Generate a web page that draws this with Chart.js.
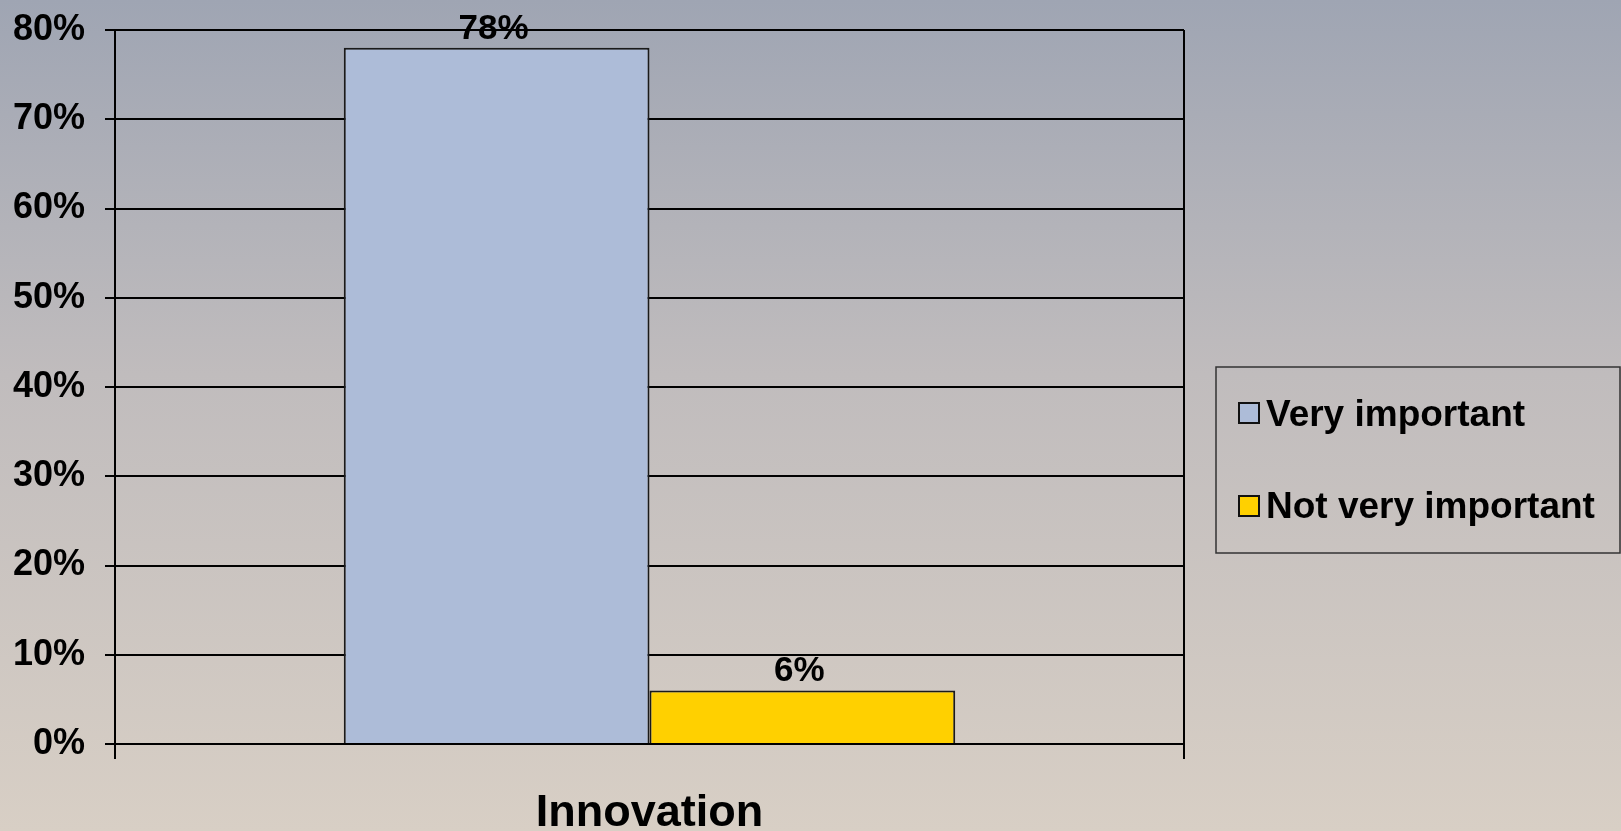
<!DOCTYPE html>
<html><head><meta charset="utf-8">
<script src="https://cdn.jsdelivr.net/npm/chart.js@4/dist/chart.umd.min.js"></script>
<style>html,body{margin:0;padding:0;overflow:hidden;background:#c8c2bf}
#wrap{width:1621px;height:831px;position:relative}</style>
</head><body><div id="wrap"><canvas id="c" width="1621" height="831"></canvas></div>
<script>
const categories = ['Innovation'];
const seriesNames = ['Very important', 'Not very important'];
const veryImportant = [78];
const notVeryImportant = [6];
const yTickMin = 0, yTickMax = 80, yTickStep = 10;
const seriesColors = ['#adbcd8', '#ffd000'];

const FONT = "'Liberation Sans', Arial, sans-serif";

const bgPlugin = {
  id: 'bg',
  beforeDraw(chart) {
    const ctx = chart.ctx;
    const g = ctx.createLinearGradient(0, 0, 0, chart.height);
    g.addColorStop(0, '#9fa5b3');
    g.addColorStop(0.45, '#c0bcbd');
    g.addColorStop(1, '#d8cfc5');
    ctx.save();
    ctx.fillStyle = g;
    ctx.fillRect(0, 0, chart.width, chart.height);
    ctx.restore();
  }
};

const labelPlugin = {
  id: 'vals',
  afterDatasetsDraw(chart) {
    const ctx = chart.ctx;
    ctx.save();
    ctx.font = 'bold 35px ' + FONT;
    ctx.fillStyle = '#000';
    ctx.textAlign = 'center';
    ctx.textBaseline = 'alphabetic';
    chart.data.datasets.forEach((ds, i) => {
      const meta = chart.getDatasetMeta(i);
      meta.data.forEach((bar, j) => {
        ctx.fillText(ds.data[j] + '%', bar.x - 3, bar.y - 9);
      });
    });
    ctx.restore();
  }
};

const legendPlugin = {
  id: 'legendBox',
  afterDraw(chart) {
    const ctx = chart.ctx;
    ctx.save();
    ctx.strokeStyle = '#333';
    ctx.lineWidth = 1.5;
    ctx.strokeRect(1216, 367, 404, 186);
    ctx.font = 'bold 37px ' + FONT;
    ctx.textBaseline = 'alphabetic';
    ctx.textAlign = 'left';
    const rows = [{box: 403, base: 426}, {box: 496, base: 518}];
    chart.data.datasets.forEach((ds, i) => {
      const r = rows[i];
      ctx.fillStyle = ds.backgroundColor;
      ctx.fillRect(1239, r.box, 20, 20);
      ctx.strokeStyle = '#111';
      ctx.lineWidth = 2;
      ctx.strokeRect(1239, r.box, 20, 20);
      ctx.fillStyle = '#000';
      ctx.fillText(ds.label, 1266, r.base);
    });
    ctx.restore();
  }
};

new Chart(document.getElementById('c'), {
  type: 'bar',
  data: {
    labels: categories,
    datasets: [
      {label: seriesNames[0], data: veryImportant, backgroundColor: seriesColors[0], borderColor: '#1a1a1a', borderWidth: 2},
      {label: seriesNames[1], data: notVeryImportant, backgroundColor: seriesColors[1], borderColor: '#1a1a1a', borderWidth: 2}
    ]
  },
  options: {
    responsive: false,
    animation: false,
    devicePixelRatio: 1,
    layout: {padding: {top: 30, right: 437, left: 0, bottom: 0}},
    datasets: {bar: {barPercentage: 1, categoryPercentage: 0.572}},
    plugins: {legend: {display: false}, tooltip: {enabled: false}},
    scales: {
      x: {
        offset: true,
        afterFit(s) { s.height = 87; s.paddingLeft = 0; s.paddingRight = 0; },
        grid: {display: true, offset: true, color: '#000', lineWidth: 2, tickLength: 15, drawOnChartArea: true},
        border: {display: true, color: '#000', width: 2},
        ticks: {color: '#000', font: {family: FONT, size: 45, weight: 'bold'}, padding: 28}
      },
      y: {
        min: yTickMin, max: yTickMax,
        afterFit(s) { s.width = 115; s.paddingTop = 0; s.paddingBottom = 0; },
        grid: {color: '#000', lineWidth: 2, tickLength: 10},
        border: {display: true, color: '#000', width: 2},
        ticks: {stepSize: yTickStep, color: '#000', padding: 20,
          font: {family: FONT, size: 36, weight: 'bold'},
          callback: v => v + '%'}
      }
    }
  },
  plugins: [bgPlugin, labelPlugin, legendPlugin]
});
</script></body></html>
